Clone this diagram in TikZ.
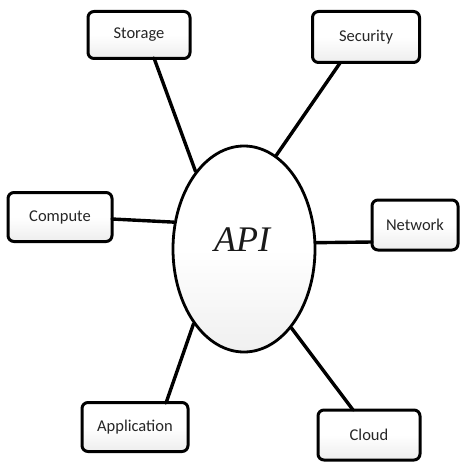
\documentclass[tikz,border=0pt]{standalone}
\usepackage{fontspec}
\usetikzlibrary{shapes.geometric}
\setmainfont{Carlito}
\newfontfamily\apifont{Liberation Serif}
\begin{document}
\begin{tikzpicture}[x=1pt,y=-1pt,
  svcbox/.style={draw=black, line width=3pt, rounded corners=6pt,
    top color=white, bottom color=gray!14, middle color=white,
    font=\fontsize{16.5}{19}\selectfont, inner sep=0pt, text=black!85},
  link/.style={line width=3.4pt, line cap=round}]
\useasboundingbox (0,0) rectangle (461,462);
\fill[white] (0,0) rectangle (461,462);

% connector end points on the boxes (drawn first, so shapes cover the ends)
\coordinate (sA) at (154,58);
\coordinate (seA) at (340,63);
\coordinate (cA) at (112,219);
\coordinate (nA) at (372,242);
\coordinate (aA) at (166,403);
\coordinate (clA) at (353,410);

% central ellipse
\node[draw=black, line width=2.8pt, ellipse, minimum width=142pt, minimum height=206pt,
  inner sep=0pt, top color=white, bottom color=gray!12, middle color=white]
  (api) at (244,249) {};
\node[font=\apifont\itshape\fontsize{36}{40}\selectfont, text=black!90] (apitext) at (242,240) {API};

% service boxes
\node[svcbox, minimum width=102pt, minimum height=47pt] (storage) at (139,35) {Storage};
\node[svcbox, minimum width=107pt, minimum height=51pt] (security) at (366,37) {Security};
\node[svcbox, minimum width=104pt, minimum height=49pt] (compute) at (60,217) {Compute};
\node[svcbox, minimum width=86pt, minimum height=50pt] (network) at (415,225) {Network};
\node[svcbox, minimum width=106pt, minimum height=49pt] (application) at (135,427) {Application};
\node[svcbox, minimum width=102pt, minimum height=50pt] (cloud) at (369,435) {Cloud};

% connectors from the boxes to the ellipse border
\draw[link] (sA) -- (api.122.5);
\draw[link] (seA) -- (api.71.4);
\draw[link] (cA) -- (api.159.9);
\draw[link] (nA) -- (api.5.6);
\draw[link] (aA) -- (api.236.8);
\draw[link] (clA) -- (api.301.6);
\end{tikzpicture}
\end{document}
